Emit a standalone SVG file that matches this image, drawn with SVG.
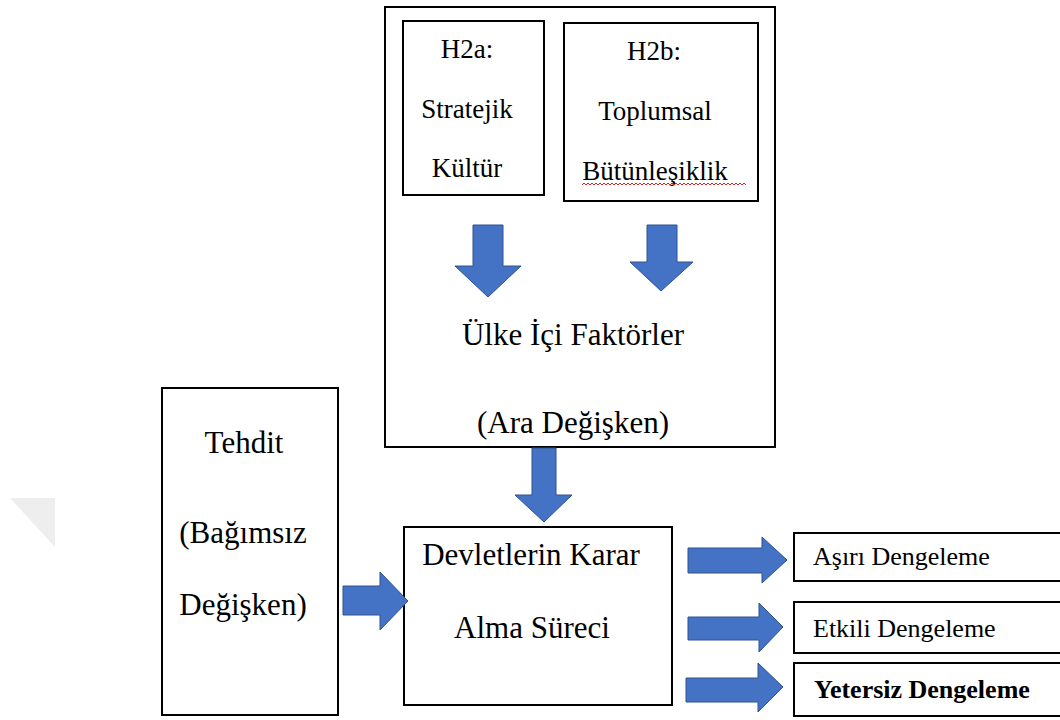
<svg xmlns="http://www.w3.org/2000/svg" width="1060" height="720" viewBox="0 0 1060 720" font-family="'Liberation Serif','Times New Roman',serif">
<defs>
<style>
.box{fill:#fff;stroke:#000;stroke-width:2}
.t{font-family:"Liberation Serif","Times New Roman",serif;fill:#000;text-anchor:middle}
.t31{font-size:31px}
.t27{font-size:27px}
.t26{font-size:26px;text-anchor:start}
.arrow{fill:#4472C4;stroke:#2F528F;stroke-width:1}
</style>
</defs>
<rect width="1060" height="720" fill="#fff"/>
<polygon points="10,498 55,498 55,547" fill="#eeeeee"/>

<g id="domestic-factors">
<rect class="box" x="385" y="7" width="390" height="440"/>
<text class="t t31" x="573" y="345">Ülke İçi Faktörler</text>
<text class="t t31" x="573" y="433">(Ara Değişken)</text>
</g>

<g id="h2a">
<rect class="box" x="403" y="21" width="141" height="174"/>
<text class="t t27" x="467" y="58">H2a:</text>
<text class="t t27" x="467" y="118">Stratejik</text>
<text class="t t27" x="467" y="177">Kültür</text>
</g>

<g id="h2b">
<rect class="box" x="564" y="23" width="194" height="178"/>
<text class="t t27" x="654" y="60">H2b:</text>
<text class="t t27" x="655" y="120">Toplumsal</text>
<text class="t t27" x="655" y="180">Bütünleşiklik</text>
<path d="M582,185 l2,-2 l2,2 l2,-2 l2,2 l2,-2 l2,2 l2,-2 l2,2 l2,-2 l2,2 l2,-2 l2,2 l2,-2 l2,2 l2,-2 l2,2 l2,-2 l2,2 l2,-2 l2,2 l2,-2 l2,2 l2,-2 l2,2 l2,-2 l2,2 l2,-2 l2,2 l2,-2 l2,2 l2,-2 l2,2 l2,-2 l2,2 l2,-2 l2,2 l2,-2 l2,2 l2,-2 l2,2 l2,-2 l2,2 l2,-2 l2,2 l2,-2 l2,2 l2,-2 l2,2 l2,-2 l2,2 l2,-2 l2,2 l2,-2 l2,2 l2,-2 l2,2 l2,-2 l2,2 l2,-2 l2,2 l2,-2 l2,2 l2,-2 l2,2 l2,-2 l2,2 l2,-2 l2,2 l2,-2 l2,2 l2,-2 l2,2 l2,-2 l2,2 l2,-2 l2,2 l2,-2 l2,2 l2,-2 l2,2 l2,-2 l2,2" fill="none" stroke="#e02020" stroke-width="1"/>
</g>

<g id="threat">
<rect class="box" x="162" y="388" width="176" height="327"/>
<text class="t t31" x="244" y="453">Tehdit</text>
<text class="t t31" x="243" y="543">(Bağımsız</text>
<text class="t t31" x="243" y="615">Değişken)</text>
</g>

<g id="decision">
<rect class="box" x="404" y="527" width="268" height="178"/>
<text class="t t31" x="531" y="565">Devletlerin Karar</text>
<text class="t t31" x="532" y="638">Alma Süreci</text>
</g>

<g id="over-balancing">
<rect class="box" x="794" y="533" width="280" height="48"/>
<text class="t t26" x="813" y="565">Aşırı Dengeleme</text>
</g>

<g id="effective-balancing">
<rect class="box" x="794" y="602" width="280" height="51"/>
<text class="t t26" x="813" y="637">Etkili Dengeleme</text>
</g>

<g id="under-balancing">
<rect class="box" x="794" y="663" width="280" height="53"/>
<text class="t t26" x="814" y="698" font-weight="bold">Yetersiz Dengeleme</text>
</g>

<g id="connectors">
<polygon class="arrow" points="473,225 503,225 503,266 521,266 488,297 455,266 473,266"/>
<polygon class="arrow" points="647,225 677,225 677,262 693,262 661,291 630,262 647,262"/>
<polygon class="arrow" points="532,448 556,448 556,495 572,495 544,522 515,495 532,495"/>
<polygon class="arrow" points="343,586 380,586 380,572 408,601 380,630 380,615 343,615"/>
<polygon class="arrow" points="688,548 762,548 762,537 787,560 762,583 762,573 688,573"/>
<polygon class="arrow" points="688,617 759,617 759,603 783,627 759,652 759,640 688,640"/>
<polygon class="arrow" points="686,678 758,678 758,663 783,687 758,712 758,702 686,702"/>
</g>
</svg>
